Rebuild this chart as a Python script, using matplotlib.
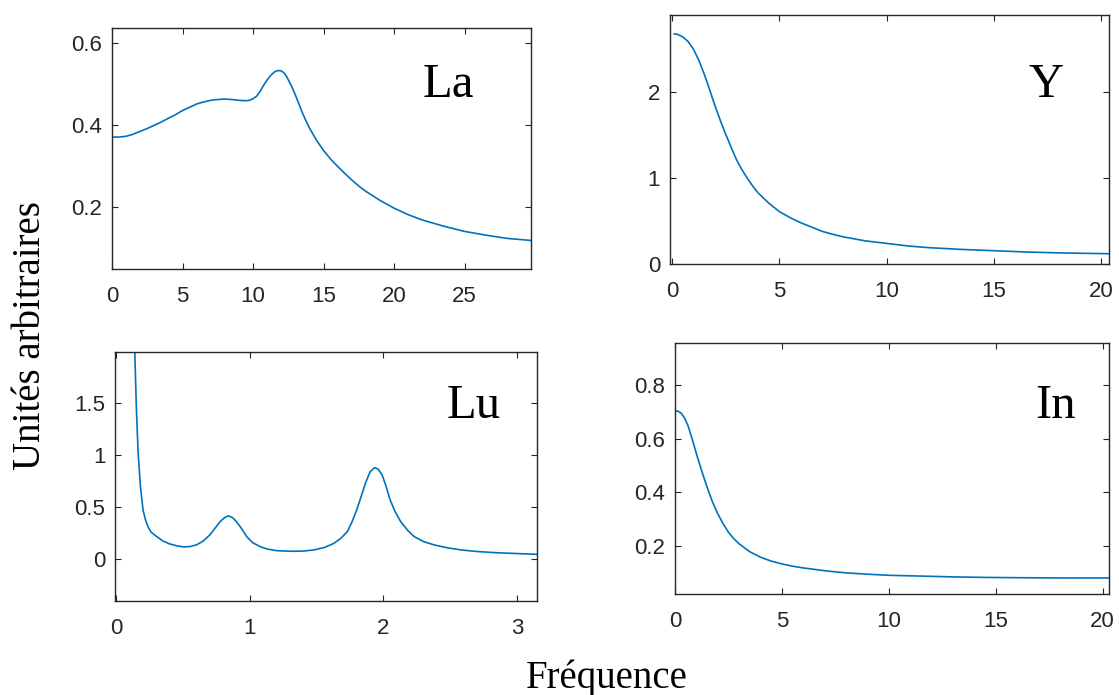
import matplotlib
matplotlib.use('Agg')
import matplotlib.pyplot as plt

# values
la_x = [0, 0.5, 1, 1.5, 2, 2.5, 3, 3.5, 4, 4.5, 5, 5.5, 6, 6.5, 7, 7.5, 8, 8.5, 9, 9.5,
        9.75, 10, 10.25, 10.5, 10.75, 11, 11.25, 11.5, 11.6, 11.8, 12.0, 12.2, 12.35, 12.5,
        12.75, 13, 13.25, 13.5, 13.75, 14, 14.5, 15, 15.5, 16, 16.5, 17, 17.5, 18, 19, 20,
        21, 22, 23.5, 25, 26.5, 28, 29.7]
la_y = [0.370, 0.370, 0.372, 0.377, 0.384, 0.391, 0.399, 0.407, 0.416, 0.425,
        0.435, 0.443, 0.451, 0.456, 0.460, 0.462, 0.463, 0.462, 0.460, 0.459,
        0.460, 0.464, 0.470, 0.482, 0.497, 0.510, 0.521, 0.529, 0.531, 0.533,
        0.532, 0.527, 0.520, 0.510, 0.493, 0.473, 0.451, 0.429, 0.410, 0.392,
        0.362, 0.337, 0.316, 0.298, 0.281, 0.265, 0.250, 0.237, 0.215, 0.196,
        0.180, 0.167, 0.152, 0.139, 0.130, 0.122, 0.117]

y_x = [0.1, 0.25, 0.5, 0.75, 1, 1.25, 1.5, 1.75, 2, 2.25, 2.5, 2.75, 3, 3.25, 3.5, 3.75,
       4, 4.5, 5, 5.5, 6, 6.5, 7, 7.5, 8, 9, 10, 11, 12, 13.5, 15, 16.5, 18, 20.35]
y_y = [2.68, 2.675, 2.645, 2.59, 2.50, 2.37, 2.21, 2.03, 1.84, 1.67, 1.51, 1.36, 1.215,
       1.10, 1.00, 0.91, 0.83, 0.71, 0.61, 0.54, 0.48, 0.43, 0.38, 0.345, 0.315, 0.27,
       0.24, 0.21, 0.19, 0.17, 0.155, 0.14, 0.13, 0.12]

lu_x = [0.128, 0.138, 0.15, 0.163, 0.18, 0.2, 0.22, 0.238, 0.26, 0.30,
        0.35, 0.40, 0.45, 0.50, 0.55, 0.60, 0.65, 0.70, 0.74, 0.776,
        0.81, 0.84, 0.87, 0.90, 0.94, 0.976, 1.02, 1.076, 1.13, 1.2,
        1.26, 1.33, 1.4, 1.48, 1.56, 1.63, 1.68, 1.73, 1.765, 1.80,
        1.835, 1.865, 1.9, 1.935, 1.96, 1.99, 2.02, 2.05, 2.09, 2.13,
        2.18, 2.23, 2.3, 2.38, 2.48, 2.58, 2.7, 2.83, 3.0, 3.15]
lu_y = [2.4, 1.99, 1.44, 1.02, 0.70, 0.47, 0.37, 0.31, 0.26, 0.22,
        0.175, 0.147, 0.13, 0.119, 0.122, 0.138, 0.175, 0.234, 0.30, 0.36,
        0.40, 0.417, 0.40, 0.36, 0.29, 0.218, 0.16, 0.122, 0.098, 0.083,
        0.079, 0.077, 0.079, 0.09, 0.114, 0.154, 0.20, 0.266, 0.36, 0.474,
        0.61, 0.73, 0.84, 0.88, 0.865, 0.81, 0.70, 0.57, 0.45, 0.36,
        0.28, 0.218, 0.17, 0.138, 0.11, 0.09, 0.075, 0.064, 0.055, 0.048]

in_x = [0, 0.15, 0.3, 0.45, 0.6, 0.8, 1, 1.25, 1.5, 1.75, 2, 2.25, 2.5, 2.75, 3, 3.5,
        4, 4.5, 5, 5.5, 6, 7, 8, 9, 10, 11.5, 13, 14.5, 16, 18, 20.3]
in_y = [0.705, 0.703, 0.695, 0.677, 0.651, 0.60, 0.545, 0.48, 0.42, 0.365,
        0.32, 0.283, 0.251, 0.227, 0.2075, 0.178, 0.1575, 0.143, 0.1325, 0.124,
        0.1175, 0.107, 0.099, 0.094, 0.09, 0.087, 0.084, 0.082, 0.081, 0.08, 0.08]

la_xticks = [0, 5, 10, 15, 20, 25]
la_yticks = [0.2, 0.4, 0.6]
la_ylabels = ['0.2', '0.4', '0.6']
y_xticks = [0, 5, 10, 15, 20]
y_yticks = [0, 1, 2]
y_ylabels = ['0', '1', '2']
lu_xticks = [0, 1, 2, 3]
lu_yticks = [0, 0.5, 1, 1.5]
lu_ylabels = ['0', '0.5', '1', '1.5']
in_xticks = [0, 5, 10, 15, 20]
in_yticks = [0.2, 0.4, 0.6, 0.8]
in_ylabels = ['0.2', '0.4', '0.6', '0.8']

LINE = '#0072BD'
DARK = '#262626'


def panel(fig, rect, xs, ys, xlim, ylim, xticks, yticks, ylabels):
    ax = fig.add_axes(rect)
    ax.plot(xs, ys, color=LINE, lw=1.2, solid_joinstyle='round')
    ax.set_xlim(*xlim)
    ax.set_ylim(*ylim)
    ax.set_xticks(xticks, [str(t) for t in xticks])
    ax.set_yticks(yticks, ylabels)
    ax.tick_params(direction='in', top=True, right=True, length=4, width=0.8,
                   color=DARK, labelcolor=DARK, labelsize=16)
    ax.tick_params(axis='x', pad=12)
    ax.tick_params(axis='y', pad=7)
    for s in ax.spines.values():
        s.set_color(DARK)
        s.set_linewidth(1.0)
    for lab in ax.get_xticklabels() + ax.get_yticklabels():
        lab.set_family('Liberation Sans')
    return ax


def main():
    fig = plt.figure(figsize=(11.19, 6.95), dpi=100)
    panel(fig, [0.1001, 0.6129, 0.3744, 0.3468], la_x, la_y, (0, 29.7), (0.047, 0.637),
          la_xticks, la_yticks, la_ylabels)
    panel(fig, [0.5987, 0.6201, 0.3923, 0.3583], y_x, y_y, (-0.1, 20.35), (0, 2.9),
          y_xticks, y_yticks, y_ylabels)
    panel(fig, [0.1028, 0.1353, 0.3771, 0.3583], lu_x, lu_y, (-0.01, 3.15), (-0.4, 1.99),
          lu_xticks, lu_yticks, lu_ylabels)
    panel(fig, [0.6032, 0.1453, 0.3878, 0.3612], in_x, in_y, (0, 20.3), (0.02, 0.958),
          in_xticks, in_yticks, in_ylabels)

    serif = 'Liberation Serif'
    fig.text(0.378, 0.8604, 'La', family=serif, fontsize=35, va='baseline')
    fig.text(0.9187, 0.8604, 'Y', family=serif, fontsize=35, va='baseline')
    fig.text(0.3995, 0.3986, 'Lu', family=serif, fontsize=35, va='baseline')
    fig.text(0.925, 0.3986, 'In', family=serif, fontsize=35, va='baseline')
    fig.text(0.027, 0.5165, 'Unités arbitraires', family=serif, fontsize=28,
             rotation=90, ha='center', va='center')
    fig.text(0.5424, 0.0101, 'Fréquence', family=serif, fontsize=28,
             ha='center', va='baseline')
    fig.savefig('out.png', dpi=100)


if __name__ == "__main__":
    main()
